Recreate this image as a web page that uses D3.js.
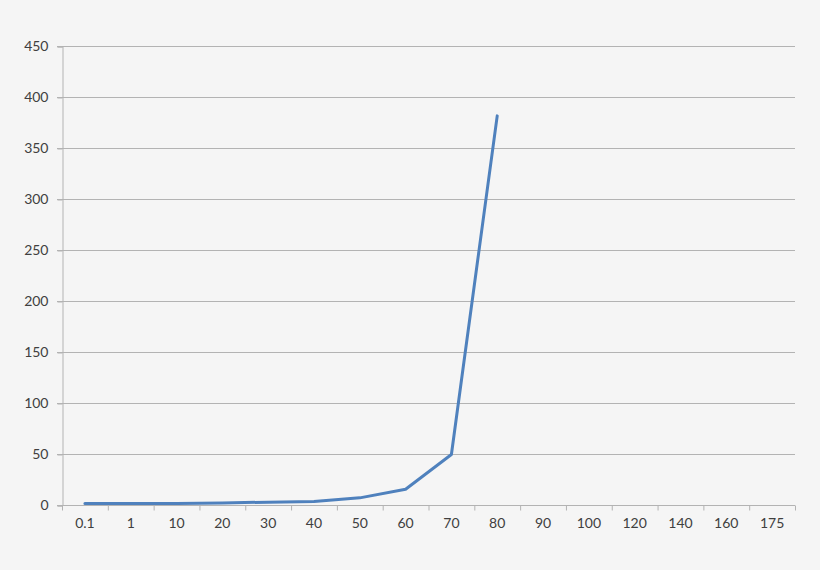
<!DOCTYPE html>
<html>
<head>
<meta charset="utf-8">
<script src="https://cdn.jsdelivr.net/npm/d3@7"></script>
<style>
  body { margin: 0; background: #f5f5f5; }
  #chart text { font-family: Lato, "Open Sans", sans-serif; font-size: 14px; fill: #404040; }
</style>
</head>
<body>
<div id="chart"></div>
<script>
// chart data
const categories = ['0.1', '1', '10', '20', '30', '40', '50', '60', '70', '80', '90', '100', '120', '140', '160', '175'];
const values = [1.5, 1.5, 1.5, 2, 2.8, 3.5, 7, 15.5, 49.5, 381.5];
const yTicks = [0, 50, 100, 150, 200, 250, 300, 350, 400, 450];

const width = 820;
const height = 570;
const margin = { top: 46, right: 25, bottom: 65, left: 62 };

const svg = d3.select('#chart')
  .append('svg')
  .attr('width', width)
  .attr('height', height);

const x = d3.scaleBand()
  .domain(categories)
  .range([margin.left, width - margin.right]);

const y = d3.scaleLinear()
  .domain([0, 450])
  .range([height - margin.bottom, margin.top]);

// horizontal gridlines
svg.append('g')
  .selectAll('line')
  .data(yTicks)
  .enter()
  .append('line')
  .attr('x1', margin.left - 5)
  .attr('x2', width - margin.right)
  .attr('y1', d => y(d) + 0.5)
  .attr('y2', d => y(d) + 0.5)
  .attr('stroke', '#b3b3b3')
  .attr('stroke-width', 1);

// y axis
const yAxis = svg.append('g')
  .attr('transform', `translate(${margin.left + 0.5},0.5)`)
  .call(d3.axisLeft(y).tickValues(yTicks).tickSize(5).tickPadding(9));
yAxis.select('.domain').attr('stroke', '#b3b3b3');
yAxis.selectAll('.tick line').attr('stroke', '#b3b3b3');

// x axis with ticks between the categories
const xAxis = svg.append('g')
  .attr('transform', `translate(0,${y(0) + 0.5})`)
  .call(d3.axisBottom(x).tickSize(0).tickPadding(13));
xAxis.select('.domain').remove();
xAxis.append('line')
  .attr('x1', margin.left)
  .attr('x2', width - margin.right)
  .attr('stroke', '#b3b3b3');
xAxis.selectAll('.sep')
  .data(categories.concat(['end']))
  .enter()
  .append('line')
  .attr('class', 'sep')
  .attr('x1', (d, i) => margin.left + i * x.step() + 0.5)
  .attr('x2', (d, i) => margin.left + i * x.step() + 0.5)
  .attr('y1', 0)
  .attr('y2', 5)
  .attr('stroke', '#b3b3b3');

// the series line
const line = d3.line()
  .x((d, i) => x(categories[i]) + x.bandwidth() / 2)
  .y(d => y(d));

svg.append('path')
  .datum(values)
  .attr('d', line)
  .attr('fill', 'none')
  .attr('stroke', '#4f81bd')
  .attr('stroke-width', 3)
  .attr('stroke-linejoin', 'round')
  .attr('stroke-linecap', 'round');
</script>
</body>
</html>
